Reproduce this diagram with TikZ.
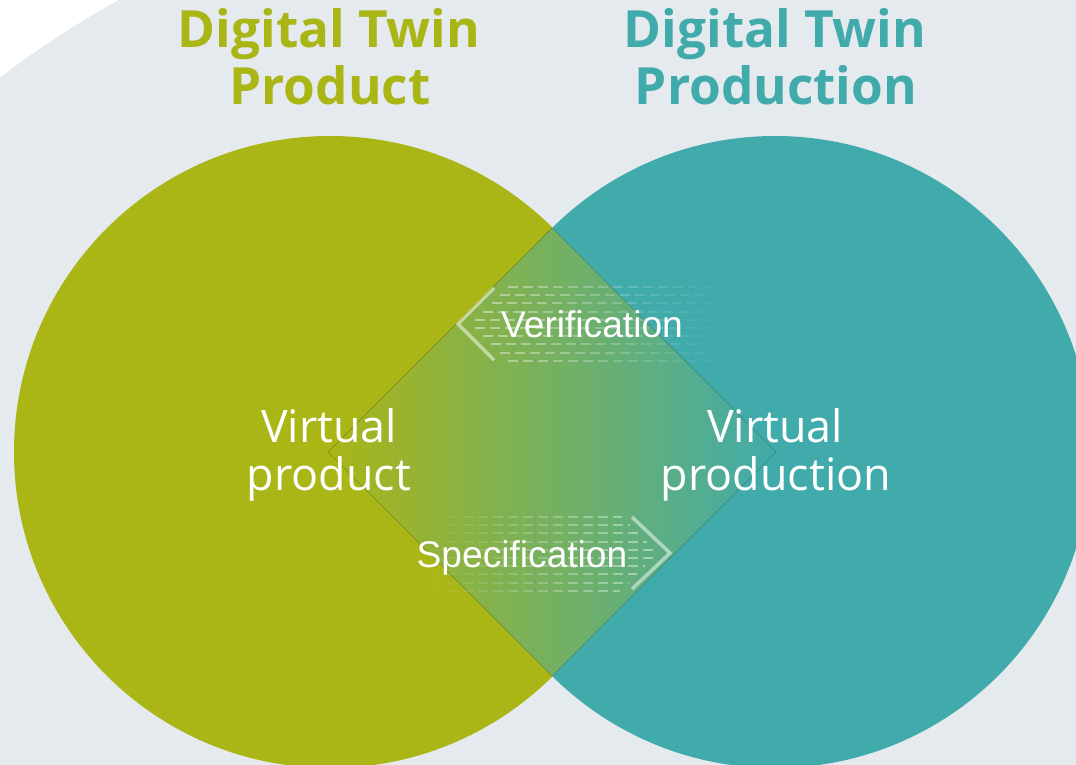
\documentclass[tikz,border=0pt]{standalone}
\usepackage{fontspec}
\setmainfont{Open Sans}
\newfontfamily\arialfont{Liberation Sans}
\usetikzlibrary{fadings}
\definecolor{bggray}{HTML}{E5EAEF}
\definecolor{olive}{HTML}{AAB516}
\definecolor{teal2}{HTML}{41ABAB}
\definecolor{midgreen}{HTML}{88AF7A}
\tikzfading[name=fadeR, left color=transparent!0, middle color=transparent!25, right color=transparent!100]
\tikzfading[name=fadeL, left color=transparent!100, middle color=transparent!25, right color=transparent!0]
\tikzset{
  title/.style={font=\fontsize{51.5}{55}\selectfont\bfseries, anchor=base, inner sep=0pt},
  virt/.style={font=\fontsize{45}{50}\selectfont, text=white, anchor=base, inner sep=0pt},
  flowtext/.style={font=\arialfont\fontsize{37.3}{40}\selectfont, text=white, anchor=base, inner sep=0pt},
  chev/.style={draw=white, draw opacity=0.5, line width=3.5bp, line join=miter},
  dashrows/.style={draw=white, draw opacity=0.45, line width=2bp, dash pattern=on 10bp off 5bp}
}
\begin{document}
\begin{tikzpicture}[x=1bp,y=-1bp]
\useasboundingbox (0,0) rectangle (1076,765);
\clip (0,0) rectangle (1076,765);
\fill[white] (0,0) rectangle (1076,765);
\fill[bggray] (620,900) circle[radius=1030];
% circles
\fill[olive] (330,452) circle[radius=316];
\fill[teal2] (775,452) circle[radius=316];
% overlap diamond
\fill[left color=olive, middle color=midgreen, right color=teal2] (552,228) -- (776,452) -- (552,676) -- (328,452) -- cycle;
% verification arrow (points left)
\path[dashrows, path fading=fadeR]
  \foreach \k in {0,...,9} {
    ({471+abs(287+8.2*\k-324)},{287+8.2*\k}) -- (728,{287+8.2*\k})
  };
\draw[chev] (494,288) coordinate (va) -- (458,324) coordinate (vb) -- (494,360) coordinate (vc);
% specification arrow (points right)
\path[dashrows, path fading=fadeL]
  \foreach \k in {0,...,9} {
    (418,{517+8.2*\k}) -- ({658-abs(517+8.2*\k-553)},{517+8.2*\k})
  };
\draw[chev] (632,517) coordinate (sa) -- (670,553) coordinate (sb) -- (632,589) coordinate (sc);
% titles
\node[title, text=olive] (t1a) at (329,48) {Digital Twin};
\node[title, text=olive] (t1b) at (330,105) {Product};
\node[title, text=teal2] (t2a) at (775,48) {Digital Twin};
\node[title, text=teal2] (t2b) at (776,105) {Production};
% inner labels
\node[virt] (v1a) at (329,442) {Virtual};
\node[virt] (v1b) at (329,490) {product};
\node[virt] (v2a) at (775,442) {Virtual};
\node[virt] (v2b) at (776,490) {production};
\node[flowtext] (ver) at (592,337) {Verification};
\node[flowtext] (spe) at (522,567) {Specification};
\end{tikzpicture}
\end{document}
